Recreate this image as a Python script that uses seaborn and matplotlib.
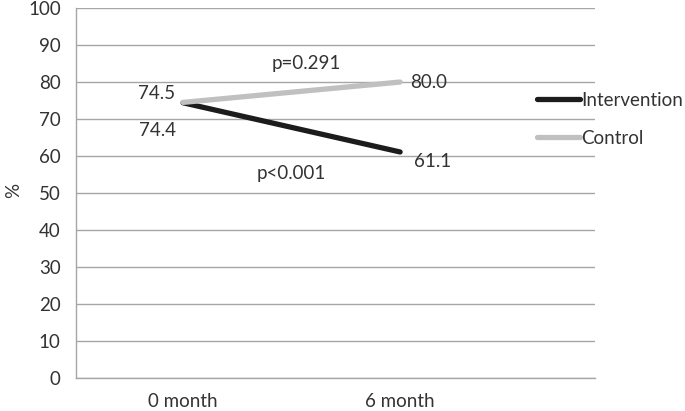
import pandas as pd
import matplotlib
matplotlib.use("Agg")
import matplotlib.pyplot as plt
import seaborn as sns

months = ["0 month", "6 month"]
intervention = [74.4, 61.1]
control = [74.5, 80.0]
p_values = ["p=0.291", "p<0.001"]

df = pd.DataFrame({
    "month": months * 2,
    "x": [0, 1] * 2,
    "value": intervention + control,
    "group": ["Intervention"] * 2 + ["Control"] * 2,
})

sns.set_style("white")
plt.rcParams["font.family"] = ["Lato", "DejaVu Sans"]

fs = 13.5
fig = plt.figure(figsize=(6.85, 4.11), dpi=100)
ax = fig.add_axes([0.111, 0.080, 0.758, 0.9005])

sns.lineplot(data=df, x="x", y="value", hue="group",
             palette={"Intervention": "#1c1c1c", "Control": "#c0c0c0"},
             linewidth=3.8, ax=ax, legend=False, solid_capstyle="round")

ax.set_xlim(-0.493, 1.899)
ax.set_ylim(0, 100)
ax.set_yticks(range(0, 101, 10))
ax.set_xticks([0, 1])
ax.set_xticklabels(months)
ax.tick_params(labelsize=fs, colors="#333333", length=0)
ax.tick_params(axis="y", pad=11)
ax.tick_params(axis="x", pad=11)
ax.grid(axis="y", color="#a6a6a6", linewidth=1)
ax.set_axisbelow(True)
for s in ["top", "right"]:
    ax.spines[s].set_visible(False)
for s in ["left", "bottom"]:
    ax.spines[s].set_color("#a6a6a6")
    ax.spines[s].set_linewidth(1)
ax.set_xlabel("")
ax.set_ylabel("%", fontsize=fs, color="#333333")
ax.yaxis.set_label_coords(-0.103, 0.508)

txt = dict(fontsize=fs, color="#333333", ha="center", va="center")
ax.text(-0.12, 77.0, f"{control[0]:.1f}", **txt)
ax.text(-0.12, 67.0, f"{intervention[0]:.1f}", **txt)
ax.text(1.13, 80.0, f"{control[1]:.1f}", **txt)
ax.text(1.15, 58.6, f"{intervention[1]:.1f}", **txt)
ax.text(0.567, 84.9, p_values[0], **txt)
ax.text(0.50, 55.4, p_values[1], **txt)

handles = [plt.Line2D([], [], color="#1c1c1c", lw=3.8, solid_capstyle="round"),
           plt.Line2D([], [], color="#c0c0c0", lw=3.8, solid_capstyle="round")]
fig.legend(handles, ["Intervention", "Control"], loc="center left",
           bbox_to_anchor=(0.784, 0.71), frameon=False, fontsize=fs,
           handlelength=2.3, handletextpad=0.05, labelspacing=1.1,
           borderpad=0, borderaxespad=0, labelcolor="#333333")

fig.savefig("out.png", dpi=100)
